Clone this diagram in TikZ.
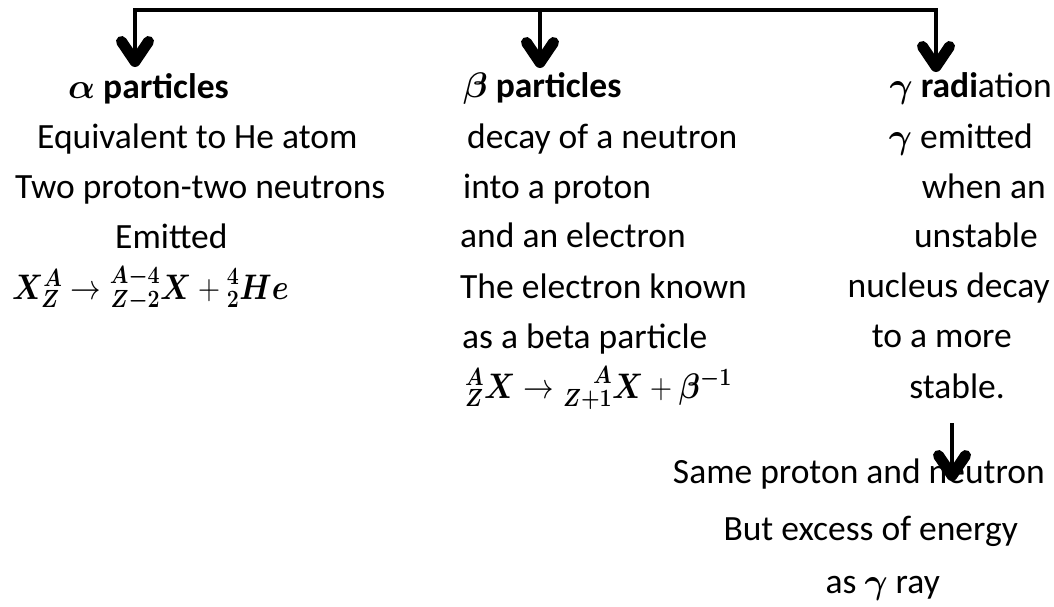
\RequirePackage{fix-cm}
\documentclass[tikz,border=0pt]{standalone}
\usepackage{amsmath,mathtools,bm}
\usepackage{fontspec}
\setmainfont{Carlito}
\usetikzlibrary{arrows.meta}
\newcommand\bodyfs{\fontsize{35.5}{42}\selectfont}
\newcommand\fml[1]{\scalebox{0.86}[1]{#1}}
\tikzset{
  tipb/.tip={Straight Barb[length=20pt,width=27pt,line width=11pt,round]},
  tx/.style={anchor=base west, inner sep=0pt, font=\bodyfs},
  txe/.style={anchor=base east, inner sep=0pt, font=\bodyfs},
  hd/.style={tx, font=\bodyfs\bfseries},
  conn/.style={line width=4.5pt, line join=miter},
  arr/.style={conn, -tipb}
}
\begin{document}
\begin{tikzpicture}[x=1pt,y=-1pt]
\useasboundingbox (0,0) rectangle (1054,606);
% alpha column
\node[hd] (hA) at (68,98) {$\bm\alpha$ particles};
\node[tx] (a1) at (37,148) {Equivalent to He atom};
\node[tx] (a2) at (15,198) {Two proton-two neutrons};
\node[tx] (a3) at (115,248) {Emitted};
\node[tx] (a4) at (12,299) {\fml{$\bm X^{\bm A}_{\bm Z} \rightarrow \prescript{\bm{A-4}}{\bm{Z-2}}{\bm X} + \prescript{\bm 4}{\bm 2}{\bm{He}}$}};
% beta column
\node[hd] (hB) at (463,97) {$\bm\beta$ particles};
\node[tx] (b1) at (467,148) {decay of a neutron};
\node[tx] (b2) at (463,198) {into a proton};
\node[tx] (b3) at (460,247) {and an electron};
\node[tx] (b4) at (460,298) {The electron known};
\node[tx] (b5) at (462,348) {as a beta particle};
\node[tx] (b6) at (465,398) {\fml{${}^{\bm A}_{\bm Z}\bm X \rightarrow \prescript{\bm A}{\bm{Z+1}}{\bm X} + \bm\beta^{\bm{-1}}$}};
% gamma column
\node[hd,anchor=base east] (hG) at (1052,97) {$\bm\gamma$ radi\mdseries ation};
\node[txe] (g1) at (1033,148) {$\bm\gamma$ emitted};
\node[txe] (g2) at (1046,198) {when an};
\node[txe] (g3) at (1038,247) {unstable};
\node[txe] (g4) at (1050,297) {nucleus decay};
\node[txe] (g5) at (1012,347) {to a more};
\node[txe] (g6) at (1005,398) {stable.};
% bottom block
\node[txe] (s1) at (1045,483) {Same proton and neutron};
\node[txe] (s2) at (1018,540) {But excess of energy};
\node[txe] (s3) at (940,593) {as $\bm\gamma$ ray};
% connectors
\coordinate (cL) at (135,10);
\coordinate (cM) at (540,10);
\coordinate (cR) at (936,10);
\coordinate (eL) at (135,67);
\coordinate (eM) at (540,68);
\coordinate (eR) at (936,72);
\draw[conn, tipb-tipb] (eL) -- (cL) -- (cR) -- (eR);
\draw[arr] (cM) -- (eM);
\coordinate (d1) at (952,423);
\coordinate (d2) at (952,481);
\draw[arr] (d1) -- (d2);
\end{tikzpicture}
\end{document}
